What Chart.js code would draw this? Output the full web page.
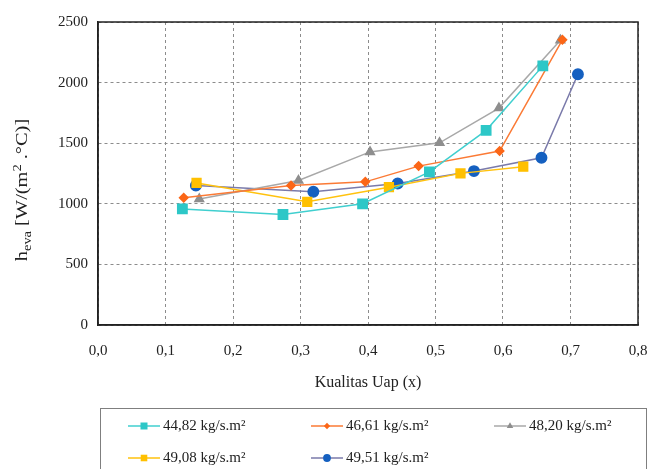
<!DOCTYPE html>
<html>
<head>
<meta charset="utf-8">
<script src="https://cdn.jsdelivr.net/npm/chart.js@4.4.0/dist/chart.umd.min.js"></script>
<style>
  html, body { margin: 0; padding: 0; background: #fff; }
  #wrap { width: 649px; height: 469px; position: relative; }
</style>
</head>
<body>
<div id="wrap"><canvas id="chart"></canvas></div>
<script>
// series names and values
const seriesLabels = ['44,82 kg/s.m²', '46,61 kg/s.m²', '48,20 kg/s.m²', '49,08 kg/s.m²', '49,51 kg/s.m²'];

const x4482 = [0.125, 0.274, 0.392, 0.491, 0.575, 0.659];
const y4482 = [958, 912, 1000, 1264, 1606, 2138];

const x4661 = [0.127, 0.286, 0.396, 0.475, 0.595, 0.688];
const y4661 = [1050, 1151, 1181, 1311, 1435, 2353];

const x4820 = [0.150, 0.297, 0.403, 0.506, 0.594, 0.685];
const y4820 = [1040, 1192, 1428, 1503, 1790, 2350];

const x4908 = [0.146, 0.310, 0.431, 0.537, 0.630];
const y4908 = [1172, 1016, 1137, 1251, 1306];

const x4951 = [0.145, 0.319, 0.444, 0.557, 0.657, 0.711];
const y4951 = [1151, 1099, 1168, 1270, 1380, 2069];

const xTicks = [0, 0.1, 0.2, 0.3, 0.4, 0.5, 0.6, 0.7, 0.8];
const yTicks = [0, 500, 1000, 1500, 2000, 2500];

const lineColors = ['#40CFCF', '#FB7A35', '#A8A8A8', '#FFC20E', '#7A7AAA'];
const markColors = ['#2DC7C7', '#FB6617', '#8E8E8E', '#FFC000', '#1560C0'];
const markStyles = ['rect', 'rectRot', 'triangle', 'rect', 'circle'];
const markSizes = [6.6, 4.2, 5, 6.2, 5.2];

const serif = "'Liberation Serif', 'DejaVu Serif', serif";

function pts(xs, ys) {
    return xs.map((x, i) => ({ x: x, y: ys[i] }));
}
const allX = [x4482, x4661, x4820, x4908, x4951];
const allY = [y4482, y4661, y4820, y4908, y4951];

const datasets = seriesLabels.map((lab, i) => ({
    label: lab,
    data: pts(allX[i], allY[i]),
    borderColor: lineColors[i],
    backgroundColor: markColors[i],
    pointBackgroundColor: markColors[i],
    pointBorderColor: markColors[i],
    pointStyle: markStyles[i],
    pointRadius: markSizes[i],
    borderWidth: 1.5,
    showLine: true,
    tension: 0
}));

// frame, axis titles and the boxed legend
const decor = {
    id: 'decor',
    beforeDatasetsDraw(chart) {
        const { ctx, chartArea: a } = chart;
        ctx.save();
        ctx.strokeStyle = '#222';
        ctx.lineWidth = 1.5;
        ctx.strokeRect(a.left, a.top, a.right - a.left, a.bottom - a.top);
        ctx.restore();
    },
    afterDraw(chart) {
        const { ctx, chartArea: a } = chart;
        ctx.save();
        ctx.fillStyle = '#222';
        ctx.textBaseline = 'middle';

        // x title
        ctx.font = '16px ' + serif;
        ctx.textAlign = 'center';
        ctx.fillText('Kualitas Uap (x)', (a.left + a.right) / 2, 383);

        // y title with sub/superscripts (stretched a little along its length like the source)
        const parts = [
            { t: 'h', s: 17, dy: 0 },
            { t: 'eva', s: 12, dy: 4 },
            { t: ' [W/(m', s: 17, dy: 0 },
            { t: '2', s: 12, dy: -6 },
            { t: ' .°C)]', s: 17, dy: 0 }
        ];
        ctx.translate(22, 190);
        ctx.rotate(-Math.PI / 2);
        ctx.scale(1.2, 1);
        ctx.textAlign = 'left';
        ctx.textBaseline = 'alphabetic';
        let total = 0;
        parts.forEach(p => { ctx.font = p.s + 'px ' + serif; total += ctx.measureText(p.t).width; });
        let cx = -total / 2;
        parts.forEach(p => {
            ctx.font = p.s + 'px ' + serif;
            ctx.fillText(p.t, cx, 5 + p.dy);
            cx += ctx.measureText(p.t).width;
        });
        ctx.restore();

        // legend
        ctx.save();
        ctx.strokeStyle = '#7f7f7f';
        ctx.lineWidth = 1;
        ctx.strokeRect(100.5, 408.5, 546, 80);
        const spots = [[128, 426], [311, 426], [494, 426], [128, 458], [311, 458]];
        ctx.font = '15px ' + serif;
        ctx.textBaseline = 'middle';
        ctx.textAlign = 'left';
        seriesLabels.forEach((lab, i) => {
            const [x, y] = spots[i];
            ctx.strokeStyle = lineColors[i];
            ctx.lineWidth = 1.5;
            ctx.beginPath();
            ctx.moveTo(x, y);
            ctx.lineTo(x + 32, y);
            ctx.stroke();
            ctx.fillStyle = markColors[i];
            Chart.helpers.drawPoint(ctx, {
                pointStyle: markStyles[i],
                radius: markSizes[i] * 0.75,
                borderWidth: 0,
                rotation: 0
            }, x + 16, y);
            ctx.fillStyle = '#222';
            ctx.fillText(lab, x + 35, y);
        });
        ctx.restore();
    }
};

new Chart(document.getElementById('chart'), {
    type: 'scatter',
    data: { datasets: datasets },
    options: {
        responsive: true,
        maintainAspectRatio: false,
        animation: false,
        layout: { padding: { left: 0, top: 22, right: 11, bottom: 0 } },
        plugins: {
            legend: { display: false },
            tooltip: { enabled: false }
        },
        scales: {
            x: {
                type: 'linear',
                min: 0,
                max: 0.8,
                afterBuildTicks: s => { s.ticks = xTicks.map(v => ({ value: v })); },
                afterFit: s => { s.height = 144; s.paddingLeft = 0; s.paddingRight = 0; },
                grid: { color: '#8c8c8c', lineWidth: 1, drawTicks: false },
                border: { display: true, color: '#222', width: 1.5, dash: [3, 3] },
                ticks: {
                    padding: 17,
                    color: '#222',
                    font: { family: serif, size: 15 },
                    maxRotation: 0,
                    callback: v => v.toFixed(1).replace('.', ',')
                }
            },
            y: {
                type: 'linear',
                min: 0,
                max: 2500,
                afterBuildTicks: s => { s.ticks = yTicks.map(v => ({ value: v })); },
                afterFit: s => { s.width = 98; s.paddingTop = 0; s.paddingBottom = 0; },
                grid: { color: '#8c8c8c', lineWidth: 1, drawTicks: false },
                border: { display: true, color: '#222', width: 1.5, dash: [3, 3] },
                ticks: {
                    padding: 10,
                    color: '#222',
                    font: { family: serif, size: 15 },
                    callback: v => String(v)
                }
            }
        }
    },
    plugins: [decor]
});
</script>
</body>
</html>
